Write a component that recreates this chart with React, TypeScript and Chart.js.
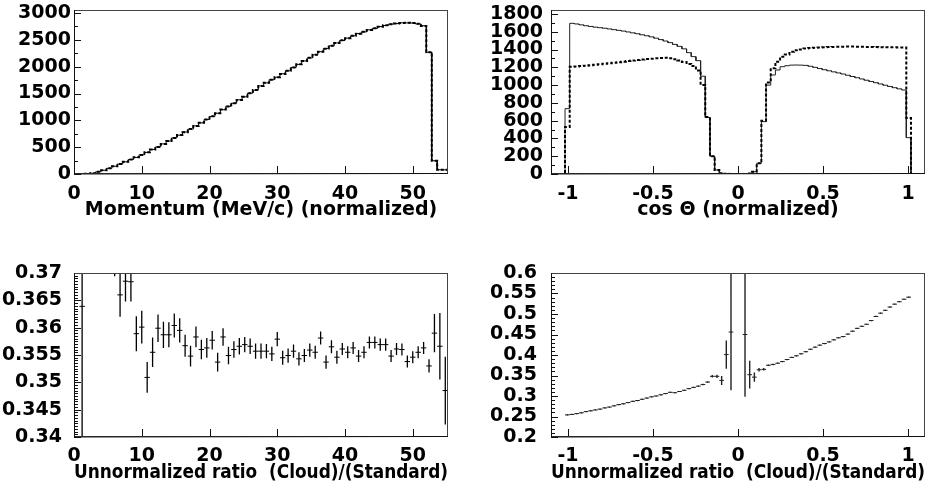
import React, { useEffect, useRef } from 'react';
import { Chart, registerables } from 'chart.js';

Chart.register(...registerables);

// ---------------- data ----------------
// Momentum histograms: 69 bins of 0.8 MeV/c starting at 0
const momentumLow = 0;
const momentumBinWidth = 0.8;
const momentumCloud = [
  0, 1, 5, 15, 40, 70, 105, 145, 185, 228,
  268, 310, 355, 405, 455, 505, 560, 615, 670, 725,
  780, 838, 895, 955, 1015, 1075, 1130, 1200, 1260, 1320,
  1380, 1440, 1505, 1565, 1640, 1700, 1755, 1805, 1865, 1925,
  1985, 2045, 2105, 2165, 2220, 2280, 2335, 2390, 2440, 2490,
  2530, 2575, 2615, 2650, 2685, 2715, 2745, 2770, 2790, 2805,
  2815, 2818, 2812, 2798, 2760, 2270, 245, 80, 78,
];
const momentumStandard = [
  0, 1, 4, 14, 41, 69, 106, 144, 186, 226,
  270, 309, 357, 403, 456, 503, 561, 613, 672, 724,
  782, 836, 897, 953, 1017, 1073, 1132, 1198, 1262, 1318,
  1382, 1438, 1507, 1563, 1642, 1698, 1757, 1803, 1867, 1923,
  1987, 2043, 2107, 2163, 2222, 2278, 2337, 2388, 2442, 2488,
  2532, 2573, 2617, 2648, 2687, 2713, 2747, 2768, 2792, 2803,
  2817, 2816, 2814, 2796, 2762, 2268, 247, 79, 77,
];
const momentumTicks = [0, 10, 20, 30, 40, 50];
const momentumTickLabels = ['0', '10', '20', '30', '40', '50'];
const momentumCountTicks = [0, 500, 1000, 1500, 2000, 2500, 3000];
const momentumCountLabels = ['0', '500', '1000', '1500', '2000', '2500', '3000'];

// cos(theta) histograms: 80 bins of 0.0275 starting at -1.1
const cosLow = -1.1;
const cosBinWidth = 0.0275;
const cosStandard = [
  0, 0, 0, 735, 1695, 1688, 1678, 1668, 1660, 1652,
  1646, 1640, 1632, 1624, 1616, 1608, 1598, 1588, 1578, 1566,
  1555, 1543, 1528, 1512, 1496, 1478, 1458, 1436, 1408, 1365,
  1320, 1275, 1100, 635, 200, 45, 8, 2, 1, 0,
  0, 1, 5, 26, 120, 589, 1000, 1114, 1170, 1207,
  1218, 1225, 1226, 1225, 1222, 1212, 1200, 1186, 1173, 1161,
  1149, 1137, 1125, 1111, 1097, 1083, 1069, 1055, 1041, 1027,
  1013, 999, 985, 971, 958, 945, 409, 0, 0, 0,
];
const cosCloud = [
  0, 0, 0, 530, 1207, 1210, 1214, 1219, 1224, 1229,
  1234, 1240, 1246, 1252, 1258, 1264, 1270, 1276, 1282, 1288,
  1293, 1297, 1301, 1305, 1308, 1302, 1292, 1278, 1260, 1238,
  1215, 1165, 1000, 640, 200, 45, 8, 2, 1, 0,
  0, 1, 5, 26, 120, 600, 1030, 1190, 1264, 1318,
  1345, 1375, 1392, 1402, 1412, 1418, 1421, 1424, 1426, 1428,
  1430, 1431, 1432, 1433, 1433, 1432, 1431, 1430, 1429, 1428,
  1427, 1426, 1425, 1425, 1424, 1424, 630, 0, 0, 0,
];
const cosTicks = [-1, -0.5, 0, 0.5, 1];
const cosTickLabels = ['-1', '-0.5', '0', '0.5', '1'];
const cosCountTicks = [0, 200, 400, 600, 800, 1000, 1200, 1400, 1600, 1800];
const cosCountLabels = ['0', '200', '400', '600', '800', '1000', '1200', '1400', '1600', '1800'];

// Unnormalized ratio vs momentum (same binning as momentum)
const ratioMomentum = [
  null, 0.3639, null, null, null, null, null, 0.376, 0.366, 0.3685,
  0.3684, 0.3589, 0.3601, 0.3509, 0.3555, 0.3599, 0.3587, 0.3587, 0.3604, 0.3595,
  0.3567, 0.3548, 0.3583, 0.356, 0.3563, 0.3577, 0.3537, 0.3583, 0.3549, 0.356,
  0.3566, 0.3569, 0.3566, 0.3557, 0.3557, 0.3557, 0.3552, 0.3579, 0.3545, 0.3549,
  0.3557, 0.3543, 0.3549, 0.3559, 0.3555, 0.3581, 0.3537, 0.3565, 0.3546, 0.3561,
  0.3555, 0.3563, 0.3548, 0.3555, 0.3573, 0.3573, 0.3569, 0.3569, 0.3548, 0.3561,
  0.356, 0.3538, 0.3546, 0.3555, 0.3563, 0.353, 0.359, 0.3566, 0.3485,
];
const ratioMomentumErr = [
  0, 0.05, 0, 0, 0, 0, 0, 0.0066, 0.004, 0.0037,
  0.0036, 0.0032, 0.003, 0.0028, 0.0027, 0.0025, 0.0024, 0.0023, 0.0022, 0.0022,
  0.002, 0.0019, 0.0019, 0.0018, 0.0018, 0.0017, 0.0017, 0.0016, 0.0016, 0.0015,
  0.0015, 0.0014, 0.0014, 0.0014, 0.0014, 0.0013, 0.0013, 0.0013, 0.0013, 0.0013,
  0.0012, 0.0012, 0.0012, 0.0012, 0.0012, 0.0012, 0.0012, 0.0012, 0.0012, 0.0011,
  0.0011, 0.0011, 0.0011, 0.0011, 0.0011, 0.0011, 0.0011, 0.0011, 0.0011, 0.0011,
  0.0011, 0.0011, 0.0011, 0.0011, 0.0011, 0.0012, 0.0035, 0.0061, 0.0062,
];
const ratioMomentumTicks = [0.34, 0.345, 0.35, 0.355, 0.36, 0.365, 0.37];
const ratioMomentumLabels = ['0.34', '0.345', '0.35', '0.355', '0.36', '0.365', '0.37'];

// Unnormalized ratio vs cos(theta) (same binning as cos histograms)
const ratioCos = [
  null, null, null, 0.254, 0.255, 0.257, 0.259, 0.262, 0.264, 0.266,
  0.268, 0.271, 0.273, 0.276, 0.279, 0.281, 0.284, 0.287, 0.289, 0.292,
  0.295, 0.298, 0.3, 0.303, 0.306, 0.309, 0.308, 0.311, 0.314, 0.318,
  0.321, 0.324, 0.328, 0.334, 0.348, 0.348, 0.338, 0.401, 0.456, null,
  null, 0.45, 0.352, 0.346, 0.364, 0.365, 0.375, 0.377, 0.38, 0.384,
  0.389, 0.394, 0.398, 0.403, 0.408, 0.414, 0.419, 0.424, 0.428, 0.432,
  0.437, 0.442, 0.445, 0.451, 0.458, 0.465, 0.47, 0.475, 0.484, 0.494,
  0.502, 0.509, 0.517, 0.524, 0.53, 0.536, 0.541, null, null, null,
];
const ratioCosErr = [
  0, 0, 0, 0.0015, 0.0015, 0.0015, 0.0015, 0.0015, 0.0015, 0.0015,
  0.0015, 0.0015, 0.0015, 0.0015, 0.0015, 0.0015, 0.0015, 0.0015, 0.0015, 0.0015,
  0.0015, 0.0015, 0.0015, 0.0015, 0.0015, 0.0015, 0.0015, 0.0015, 0.0015, 0.0015,
  0.0015, 0.0015, 0.0016, 0.0018, 0.003, 0.004, 0.011, 0.0345, 0.142, 0,
  0, 0.152, 0.034, 0.0115, 0.004, 0.003, 0.002, 0.0018, 0.0016, 0.0015,
  0.0015, 0.0015, 0.0015, 0.0015, 0.0015, 0.0015, 0.0015, 0.0015, 0.0015, 0.0015,
  0.0015, 0.0015, 0.0015, 0.0015, 0.0015, 0.0015, 0.0015, 0.0015, 0.0015, 0.0015,
  0.0015, 0.0015, 0.0015, 0.0015, 0.0015, 0.0015, 0.0015, 0, 0, 0,
];
const ratioCosTicks = [0.2, 0.25, 0.3, 0.35, 0.4, 0.45, 0.5, 0.55, 0.6];
const ratioCosLabels = ['0.2', '0.25', '0.3', '0.35', '0.4', '0.45', '0.5', '0.55', '0.6'];

// ---------------- helpers ----------------
const FONT = { family: "'DejaVu Sans', 'Liberation Sans', sans-serif", size: 19, weight: 'bold' as const };

function histOutline(values: number[], low: number, width: number) {
  const pts: { x: number; y: number }[] = [{ x: low, y: values[0] }];
  for (let k = 1; k < values.length; k++) {
    const e = low + k * width;
    pts.push({ x: e, y: values[k - 1] }, { x: e, y: values[k] });
  }
  pts.push({ x: low + values.length * width, y: values[values.length - 1] });
  return pts;
}

function errorBars(values: (number | null)[], errs: number[], low: number, width: number) {
  const v: { x: number; y: number | null }[] = [];
  const h: { x: number; y: number | null }[] = [];
  values.forEach((y, i) => {
    if (y === null) return;
    const c = low + (i + 0.5) * width;
    v.push({ x: c, y: y - errs[i] }, { x: c, y: y + errs[i] }, { x: c, y: null });
    h.push({ x: c - width / 2, y }, { x: c + width / 2, y }, { x: c, y: null });
  });
  return { v, h };
}

function framePlugin(yMinor: number) {
  return {
    id: 'rootFrame',
    afterDatasetsDraw(chart: any) {
      const { ctx, chartArea: a, scales } = chart;
      const xs = scales.x;
      const ys = scales.y;
      const X = (v: number) => Math.round(xs.getPixelForValue(v)) + 0.5;
      const Y = (v: number) => Math.round(ys.getPixelForValue(v)) + 0.5;
      ctx.save();
      ctx.strokeStyle = '#111';
      ctx.lineWidth = 1;
      ctx.beginPath();
      xs.ticks.forEach((t: any) => {
        const px = X(t.value);
        ctx.moveTo(px, a.bottom);
        ctx.lineTo(px, a.bottom - 8);
      });
      ys.ticks.forEach((t: any) => {
        const py = Y(t.value);
        ctx.moveTo(a.left, py);
        ctx.lineTo(a.left + 7, py);
      });
      const n = Math.round((ys.max - ys.min) / yMinor);
      for (let i = 0; i <= n; i++) {
        const py = Y(ys.min + i * yMinor);
        ctx.moveTo(a.left, py);
        ctx.lineTo(a.left + 4, py);
      }
      ctx.stroke();
      ctx.strokeStyle = '#444';
      ctx.strokeRect(Math.round(a.left) + 0.5, Math.round(a.top) + 0.5,
        Math.round(a.right - a.left) - 1, Math.round(a.bottom - a.top) - 1);
      ctx.strokeStyle = '#111';
      ctx.beginPath();
      ctx.moveTo(Math.round(a.left) + 0.5, a.top);
      ctx.lineTo(Math.round(a.left) + 0.5, a.bottom);
      ctx.lineTo(a.right, Math.round(a.bottom) - 0.5);
      ctx.stroke();
      ctx.restore();
    },
  };
}

type Spec = {
  left: number; top: number; padTop: number; padRight: number;
  yWidth: number; xHeight: number;
  xMin: number; xMax: number; yMin: number; yMax: number;
  xTicks: number[]; xLabels: string[]; yTicks: number[]; yLabels: string[];
  xPad: number; yPad: number; titlePad: number; title: string; yMinor: number;
  datasets: any[];
};

function buildConfig(s: Spec): any {
  return {
    type: 'line',
    data: { datasets: s.datasets },
    options: {
      responsive: false,
      maintainAspectRatio: false,
      devicePixelRatio: 1,
      animation: false,
      events: [],
      layout: { autoPadding: false, padding: { left: 0, top: s.padTop, right: s.padRight, bottom: 0 } },
      plugins: { legend: { display: false }, tooltip: { enabled: false } },
      elements: { point: { radius: 0 }, line: { tension: 0 } },
      scales: {
        x: {
          type: 'linear', position: 'bottom', min: s.xMin, max: s.xMax,
          grid: { display: false, drawTicks: false },
          border: { display: false },
          ticks: {
            autoSkip: false, maxRotation: 0, minRotation: 0, padding: s.xPad, color: '#000', font: FONT,
            callback: (_v: any, i: number) => s.xLabels[i],
          },
          afterBuildTicks: (ax: any) => { ax.ticks = s.xTicks.map((v) => ({ value: v })); },
          afterFit: (ax: any) => { ax.height = s.xHeight; ax.paddingLeft = 0; ax.paddingRight = 0; },
          title: { display: true, text: s.title, color: '#000', font: FONT, padding: { top: 0, bottom: s.titlePad } },
        },
        y: {
          type: 'linear', position: 'left', min: s.yMin, max: s.yMax,
          grid: { display: false, drawTicks: false },
          border: { display: false },
          ticks: {
            autoSkip: false, padding: s.yPad, color: '#000', font: FONT,
            callback: (_v: any, i: number) => s.yLabels[i],
          },
          afterBuildTicks: (ax: any) => { ax.ticks = s.yTicks.map((v) => ({ value: v })); },
          afterFit: (ax: any) => { ax.width = s.yWidth; ax.paddingTop = 0; ax.paddingBottom = 0; },
        },
      },
    },
    plugins: [framePlugin(s.yMinor)],
  };
}

function solidHist(values: number[], low: number, width: number, color: string) {
  return {
    data: histOutline(values, low, width), borderColor: color, borderWidth: 1,
    pointRadius: 0, fill: false, order: 1,
  };
}
function dottedHist(values: number[], low: number, width: number) {
  return {
    data: histOutline(values, low, width), borderColor: '#000', borderWidth: 2,
    borderDash: [3, 2], pointRadius: 0, fill: false, order: 0,
  };
}
function errSets(values: (number | null)[], errs: number[], low: number, width: number, color: string, w: number) {
  const { v, h } = errorBars(values, errs, low, width);
  return [
    { data: v, borderColor: color, borderWidth: w, pointRadius: 0, spanGaps: false, fill: false },
    { data: h, borderColor: color, borderWidth: 1, pointRadius: 0, spanGaps: false, fill: false },
  ];
}

const specs: Spec[] = [
  {
    left: 0, top: 0, padTop: 10, padRight: 27, yWidth: 74, xHeight: 75,
    xMin: 0, xMax: 55.2, yMin: 0, yMax: 3056,
    xTicks: momentumTicks, xLabels: momentumTickLabels, yTicks: momentumCountTicks, yLabels: momentumCountLabels,
    xPad: 9, yPad: 3, titlePad: 28, title: 'Momentum (MeV/c) (normalized)', yMinor: 250,
    datasets: [
      solidHist(momentumStandard, momentumLow, momentumBinWidth, '#000'),
      dottedHist(momentumCloud, momentumLow, momentumBinWidth),
    ],
  },
  {
    left: 475, top: 0, padTop: 10, padRight: 25, yWidth: 76, xHeight: 75,
    xMin: -1.1, xMax: 1.1, yMin: 0, yMax: 1845,
    xTicks: cosTicks, xLabels: cosTickLabels, yTicks: cosCountTicks, yLabels: cosCountLabels,
    xPad: 9, yPad: 8, titlePad: 28, title: 'cos \u0398 (normalized)', yMinor: 100,
    datasets: [
      solidHist(cosStandard, cosLow, cosBinWidth, '#222'),
      dottedHist(cosCloud, cosLow, cosBinWidth),
    ],
  },
  {
    left: 0, top: 249, padTop: 24, padRight: 27, yWidth: 74, xHeight: 61,
    xMin: 0, xMax: 55.2, yMin: 0.34, yMax: 0.37,
    xTicks: momentumTicks, xLabels: momentumTickLabels, yTicks: ratioMomentumTicks, yLabels: ratioMomentumLabels,
    xPad: 8, yPad: 12, titlePad: 14, title: 'Unnormalized ratio  (Cloud)/(Standard)', yMinor: 0.0005,
    datasets: errSets(ratioMomentum, ratioMomentumErr, momentumLow, momentumBinWidth, '#000', 1.3),
  },
  {
    left: 475, top: 249, padTop: 24, padRight: 25, yWidth: 76, xHeight: 61,
    xMin: -1.1, xMax: 1.1, yMin: 0.2, yMax: 0.6,
    xTicks: cosTicks, xLabels: cosTickLabels, yTicks: ratioCosTicks, yLabels: ratioCosLabels,
    xPad: 8, yPad: 14, titlePad: 14, title: 'Unnormalized ratio  (Cloud)/(Standard)', yMinor: 0.01,
    datasets: errSets(ratioCos, ratioCosErr, cosLow, cosBinWidth, '#222', 1.4),
  },
];

function Panel({ spec }: { spec: Spec }) {
  const ref = useRef<HTMLCanvasElement>(null);
  useEffect(() => {
    const chart = new Chart(ref.current as HTMLCanvasElement, buildConfig(spec));
    return () => chart.destroy();
  }, [spec]);
  return (
    <canvas
      ref={ref}
      width={475}
      height={249}
      style={{ position: 'absolute', left: spec.left, top: spec.top, width: 475, height: 249 }}
    />
  );
}

export default function App() {
  return (
    <div style={{ position: 'absolute', left: 0, top: 0, width: 950, height: 498, background: '#fff', overflow: 'hidden' }}>
      {specs.map((s, i) => <Panel key={i} spec={s} />)}
    </div>
  );
}
